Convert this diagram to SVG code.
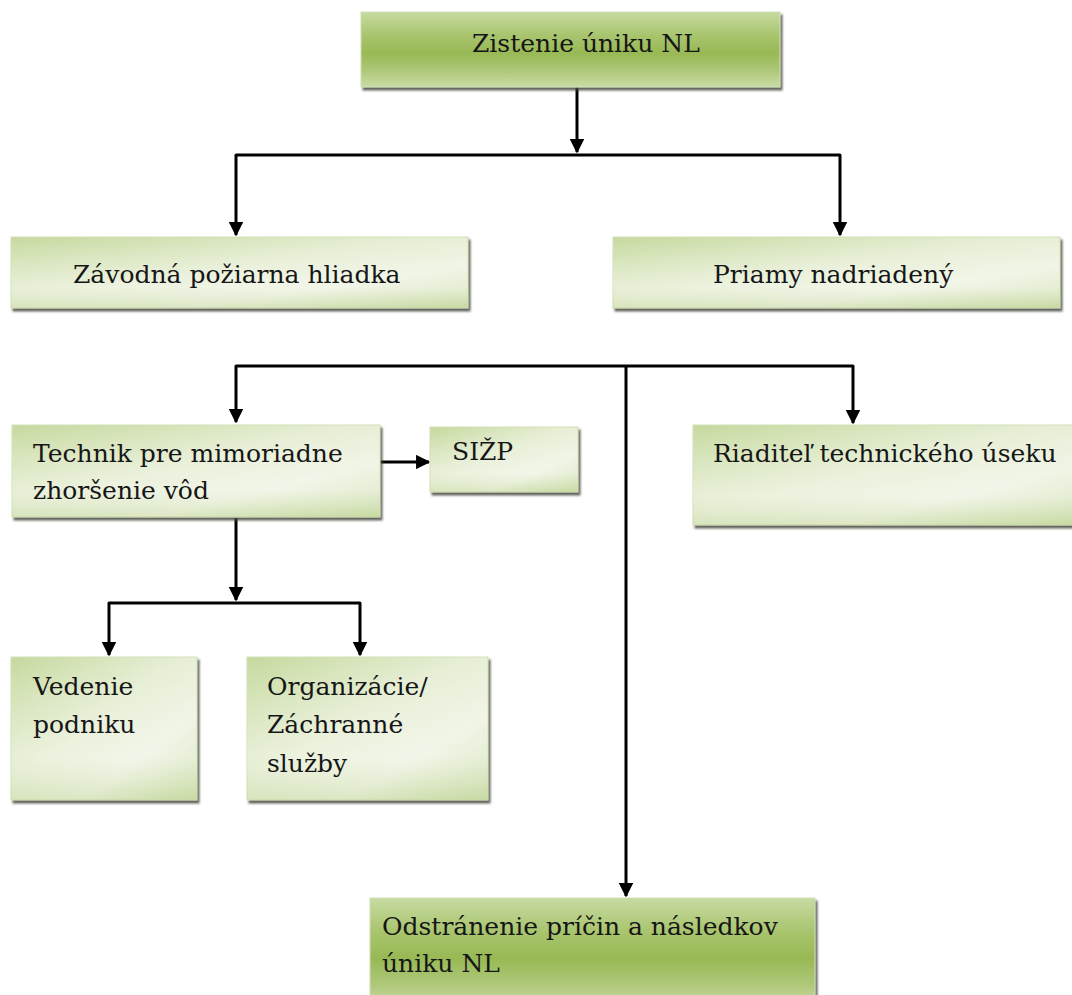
<svg xmlns="http://www.w3.org/2000/svg" width="1072" height="995" viewBox="0 0 1072 995">
<defs>
<linearGradient id="pale" x1="0" y1="0" x2="1" y2="1">
<stop offset="0" stop-color="#c6d99e"/>
<stop offset="0.45" stop-color="#e6eed4"/>
<stop offset="0.7" stop-color="#eef3e2"/>
<stop offset="1" stop-color="#cfdfae"/>
</linearGradient>
<linearGradient id="paleV" x1="0" y1="0" x2="0" y2="1">
<stop offset="0" stop-color="#ffffff" stop-opacity="0"/>
<stop offset="0.7" stop-color="#ffffff" stop-opacity="0.25"/>
<stop offset="1" stop-color="#b9cf8c" stop-opacity="0.35"/>
</linearGradient>
<linearGradient id="dark" x1="0" y1="0" x2="0" y2="1">
<stop offset="0" stop-color="#c7dba2"/>
<stop offset="0.3" stop-color="#a9c56f"/>
<stop offset="0.55" stop-color="#98b955"/>
<stop offset="0.8" stop-color="#b0c97c"/>
<stop offset="1" stop-color="#c9dca6"/>
</linearGradient>
<filter id="sh" x="-5%" y="-10%" width="115%" height="130%">
<feDropShadow dx="2" dy="3" stdDeviation="1" flood-color="#4a4a40" flood-opacity="0.85"/>
</filter>
<marker id="ah" viewBox="0 0 10 10" refX="9" refY="5" markerWidth="4.8" markerHeight="4.8" orient="auto-start-reverse" markerUnits="strokeWidth">
<path d="M0,0 L10,5 L0,10 z" fill="#000"/>
</marker>
</defs>
<style>
.box{stroke:#d2dfb6;stroke-width:1;filter:url(#sh)}
.p{fill:url(#pale)}
.d{fill:url(#dark)}
.gl{fill:url(#paleV);stroke:none}
.t{font-family:'DejaVu Serif',serif;font-size:25px;fill:#161616}
.c{fill:none;stroke:#000;stroke-width:3;stroke-linejoin:round}
</style>
<rect width="1072" height="995" fill="#ffffff"/>

<g id="connectors">
<path class="c" d="M577,87 V152" marker-end="url(#ah)"/>
<path class="c" d="M236,235 V155 H840 V235" marker-start="url(#ah)" marker-end="url(#ah)"/>
<path class="c" d="M236,422 V366 H853 V423" marker-start="url(#ah)" marker-end="url(#ah)"/>
<path class="c" d="M626,366 V896" marker-end="url(#ah)"/>
<path class="c" d="M380,462 H429" marker-end="url(#ah)"/>
<path class="c" d="M236,518 V600" marker-end="url(#ah)"/>
<path class="c" d="M109,655 V603 H360 V655" marker-start="url(#ah)" marker-end="url(#ah)"/>
</g>

<g id="n-zistenie">
<rect class="box d" x="361" y="12" width="419" height="75"/>
<text class="t" x="472" y="52">Zistenie úniku NL</text>
</g>

<g id="n-zavodna">
<rect class="box p" x="11" y="237" width="457" height="71"/>
<rect class="gl" x="11" y="237" width="457" height="71"/>
<text class="t" x="73" y="283">Závodná požiarna hliadka</text>
</g>

<g id="n-priamy">
<rect class="box p" x="613" y="237" width="447" height="71"/>
<rect class="gl" x="613" y="237" width="447" height="71"/>
<text class="t" x="713" y="283">Priamy nadriadený</text>
</g>

<g id="n-technik">
<rect class="box p" x="12" y="425" width="368" height="92"/>
<rect class="gl" x="12" y="425" width="368" height="92"/>
<text class="t" x="33" y="462">Technik pre mimoriadne</text>
<text class="t" x="33" y="499">zhoršenie vôd</text>
</g>

<g id="n-sizp">
<rect class="box p" x="430" y="427" width="148" height="65"/>
<rect class="gl" x="430" y="427" width="148" height="65"/>
<text class="t" x="452" y="460">SIŽP</text>
</g>

<g id="n-riaditel">
<rect class="box p" x="693" y="425" width="385" height="100"/>
<rect class="gl" x="693" y="425" width="385" height="100"/>
<text class="t" x="713" y="462">Riaditeľ technického  úseku</text>
</g>

<g id="n-vedenie">
<rect class="box p" x="11" y="657" width="186" height="143"/>
<rect class="gl" x="11" y="657" width="186" height="143"/>
<text class="t" x="33" y="695">Vedenie</text>
<text class="t" x="33" y="733">podniku</text>
</g>

<g id="n-organizacie">
<rect class="box p" x="247" y="657" width="241" height="143"/>
<rect class="gl" x="247" y="657" width="241" height="143"/>
<text class="t" x="267" y="695">Organizácie/</text>
<text class="t" x="267" y="733">Záchranné</text>
<text class="t" x="267" y="772">služby</text>
</g>

<g id="n-odstranenie">
<rect class="box d" x="370" y="898" width="445" height="110"/>
<text class="t" x="382" y="935">Odstránenie príčin a následkov</text>
<text class="t" x="382" y="972">úniku  NL</text>
</g>
</svg>
